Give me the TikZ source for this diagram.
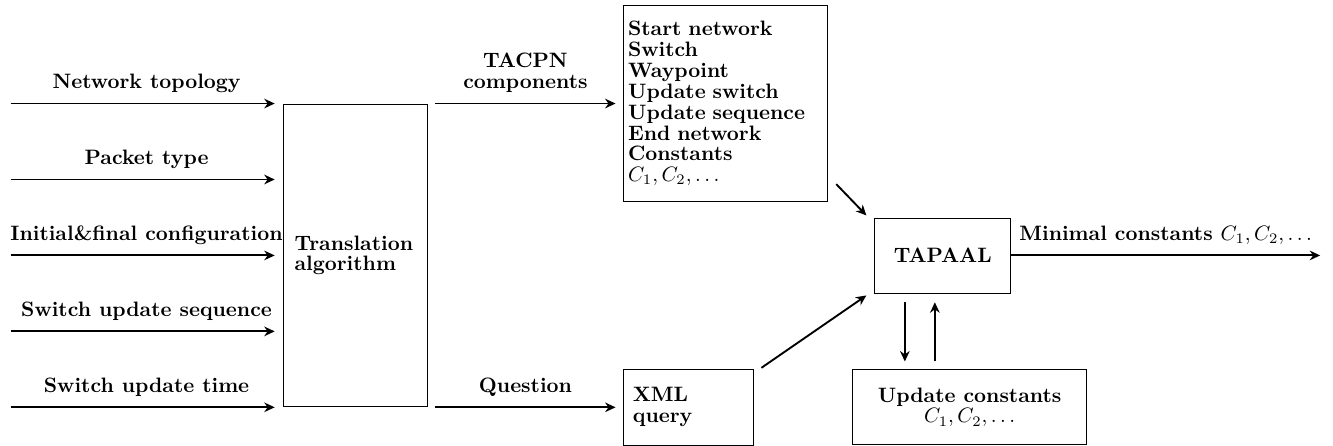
\documentclass[tikz,border=0pt]{standalone}
\usetikzlibrary{arrows.meta, positioning, calc}
\newcommand{\boxfont}{\bfseries\fontsize{10pt}{10pt}\selectfont}

\begin{document}
\begin{tikzpicture}[
    box/.style={draw, rectangle, inner xsep=2pt, align=left, font=\boxfont},
    arrow/.style={-{Stealth[length=5pt, width=4.6pt, inset=1.6pt]}, line width=0.9pt},
    lbl/.style={above, yshift=1.5pt, align=center, font=\boxfont}
]
\useasboundingbox (-170.4pt,-91.4pt) rectangle (469.4pt,122.6pt);

% Boxes
\node[box, minimum width=69.1pt, minimum height=145.4pt, text width=58pt, inner xsep=5.5pt] (trans) at (0,0) {Translation\\algorithm};
\node[box, minimum width=97.9pt, minimum height=94.1pt, text width=93.9pt, right=94.1pt of trans.north east] (comp) {Start network\\Switch\\Waypoint\\Update switch\\Update sequence\\End network\\Constants\\$C_1, C_2, \ldots$};
\node[box, minimum width=62.4pt, minimum height=36.5pt, text width=53.8pt, inner xsep=4.3pt, right=94.1pt of trans.south east] (xml) {XML\\query};
\node[box, align=center, minimum width=65.3pt, minimum height=36pt, anchor=west, xshift=57.6pt] (tapaal) at (xml.east |- trans.east) {TAPAAL};
\node[box, align=center, minimum width=112.3pt, minimum height=36pt, right=47pt of xml.east] (upd) {Update constants\\$C_1, C_2, \ldots$};

% Inputs
\coordinate (in1) at ($(trans.north west)+(-130.6pt,0)$);
\coordinate (in2) at ($(trans.north west)!0.25!(trans.south west)+(-130.6pt,0)$);
\coordinate (in3) at ($(trans.north west)!0.5!(trans.south west)+(-130.6pt,0)$);
\coordinate (in4) at ($(trans.north west)!0.75!(trans.south west)+(-130.6pt,0)$);
\coordinate (in5) at ($(trans.south west)+(-130.6pt,0)$);
\draw[arrow, shorten >=3.8pt] (in1) -- node[lbl] {Network topology} (in1 -| trans.west);
\draw[arrow, shorten >=3.8pt] (in2) -- node[lbl] {Packet type} (in2 -| trans.west);
\draw[arrow, shorten >=3.8pt] (in3) -- node[lbl] {Initial\&final configuration} (in3 -| trans.west);
\draw[arrow, shorten >=3.8pt] (in4) -- node[lbl] {Switch update sequence} (in4 -| trans.west);
\draw[arrow, shorten >=3.8pt] (in5) -- node[lbl] {Switch update time} (in5 -| trans.west);

% Outputs of the translation
\draw[arrow, shorten <=3.8pt, shorten >=3.8pt] (trans.north east) -- node[lbl] {TACPN\\components} (comp.west);
\draw[arrow, shorten <=3.8pt, shorten >=3.8pt] (trans.south east) -- node[lbl] {Question} (xml.west);

% Into TAPAAL
\draw[arrow] ($(comp.south east)+(3.8pt,8.6pt)$) -- ($(tapaal.north west)+(-3.8pt,1pt)$);
\draw[arrow] ($(xml.north east)+(3.4pt,0.5pt)$) -- ($(tapaal.south west)+(-3.8pt,-1pt)$);

% Loop with the constants
\draw[arrow, shorten <=4.3pt, shorten >=3.8pt] ($(tapaal.south)+(-18.2pt,0)$) -- ($(tapaal.south |- upd.north)+(-18.2pt,0)$);
\draw[arrow, shorten <=3.8pt, shorten >=4.3pt] ($(tapaal.south |- upd.north)+(-3.8pt,0)$) -- ($(tapaal.south)+(-3.8pt,0)$);

% Result
\coordinate (out) at ($(tapaal.east)+(148.3pt,0)$);
\draw[arrow] (tapaal.east) -- node[lbl] {Minimal constants $C_1, C_2, \ldots$} (out);

\end{tikzpicture}
\end{document}
